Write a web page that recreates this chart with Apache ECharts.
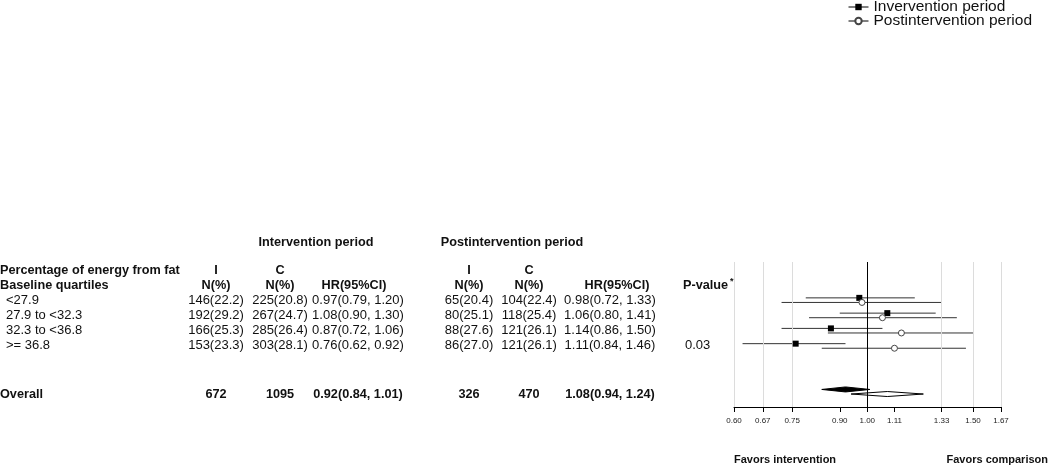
<!DOCTYPE html>
<html><head><meta charset="utf-8">
<script src="https://cdn.jsdelivr.net/npm/echarts@6/dist/echarts.min.js"></script>
<style>html,body{margin:0;padding:0;background:#fff}#c{width:1050px;height:466px}</style>
</head><body><div id="c"></div>
<script>
// ---- data ----
const rowLabels = ['<27.9', '27.9 to <32.3', '32.3 to <36.8', '>= 36.8'];
const intI = ['146(22.2)', '192(29.2)', '166(25.3)', '153(23.3)'];
const intC = ['225(20.8)', '267(24.7)', '285(26.4)', '303(28.1)'];
const intHR = [0.97, 1.08, 0.87, 0.76];
const intLo = [0.79, 0.90, 0.72, 0.62];
const intHi = [1.20, 1.30, 1.06, 0.92];
const postI = ['65(20.4)', '80(25.1)', '88(27.6)', '86(27.0)'];
const postC = ['104(22.4)', '118(25.4)', '121(26.1)', '121(26.1)'];
const postHR = [0.98, 1.06, 1.14, 1.11];
const postLo = [0.72, 0.80, 0.86, 0.84];
const postHi = [1.33, 1.41, 1.50, 1.46];
const pValues = ['', '', '', '0.03'];
const overallN = ['672', '1095', '326', '470'];   // int I, int C, post I, post C
const overallHR = [0.92, 1.08];
const overallLo = [0.84, 0.94];
const overallHi = [1.01, 1.24];
const tickValues = [0.60, 0.67, 0.75, 0.90, 1.00, 1.11, 1.33, 1.50, 1.67];
const gridValues = [0.60, 0.67, 0.75, 1.33, 1.50, 1.67];
const seriesNames = ['Invervention period', 'Postintervention period'];
const OVERALL_ROW = 6;

// ---- layout ----
const FONT = '"Liberation Sans", Arial, Helvetica, sans-serif';
const rowY = r => 300 + 15.2 * r;
const fmtHR = (v, lo, hi) => v.toFixed(2) + '(' + lo.toFixed(2) + ', ' + hi.toFixed(2) + ')';
const texts = [];
function t(x, y, s, align, bold, size) {
  texts.push({
    type: 'text', x: x, y: y, silent: true,
    style: {
      text: s, align: align || 'left', verticalAlign: 'middle',
      font: (bold ? 'bold ' : '') + (size || (bold ? 12.7 : 13)) + 'px ' + FONT, fill: '#111'
    }
  });
}
const col = { iI: 216, iC: 280, iHR: 358, pI: 469, pC: 529, pHR: 610, pv: 683 };
t(316, 242, 'Intervention period', 'center', true);
t(512, 242, 'Postintervention period', 'center', true);
t(0, 270, 'Percentage of energy from fat', 'left', true);
t(0, 285, 'Baseline quartiles', 'left', true);
t(col.iI, 270, 'I', 'center', true); t(col.iC, 270, 'C', 'center', true);
t(col.pI, 270, 'I', 'center', true); t(col.pC, 270, 'C', 'center', true);
t(col.iI, 285, 'N(%)', 'center', true); t(col.iC, 285, 'N(%)', 'center', true);
t(354, 285, 'HR(95%CI)', 'center', true);
t(col.pI, 285, 'N(%)', 'center', true); t(col.pC, 285, 'N(%)', 'center', true);
t(617, 285, 'HR(95%CI)', 'center', true);
t(col.pv, 285, 'P-value', 'left', true);
t(col.pv + 47, 282, '*', 'left', true, 9);
rowLabels.forEach((lab, i) => {
  const y = rowY(i);
  t(6, y, lab, 'left');
  t(col.iI, y, intI[i], 'center'); t(col.iC, y, intC[i], 'center');
  t(col.iHR, y, fmtHR(intHR[i], intLo[i], intHi[i]), 'center');
  t(col.pI, y, postI[i], 'center'); t(col.pC, y, postC[i], 'center');
  t(col.pHR, y, fmtHR(postHR[i], postLo[i], postHi[i]), 'center');
  if (pValues[i]) t(col.pv + 2, y, pValues[i], 'left');
});
const oy = rowY(OVERALL_ROW) + 3;
t(0, oy, 'Overall', 'left', true);
t(col.iI, oy, overallN[0], 'center', true); t(col.iC, oy, overallN[1], 'center', true);
t(col.iHR, oy, fmtHR(overallHR[0], overallLo[0], overallHi[0]), 'center', true);
t(col.pI, oy, overallN[2], 'center', true); t(col.pC, oy, overallN[3], 'center', true);
t(col.pHR, oy, fmtHR(overallHR[1], overallLo[1], overallHi[1]), 'center', true);
t(734, 460, 'Favors intervention', 'left', true, 11);
t(1048, 460, 'Favors comparison', 'right', true, 11);

const OFF = 0.15;
function ciSeries(lo, hi, off) {
  return {
    type: 'custom', silent: true, z: 2,
    data: lo.map((v, i) => [v, hi[i], i + off]),
    encode: { x: [0, 1], y: 2 },
    renderItem: (p, api) => {
      const a = api.coord([api.value(0), api.value(2)]);
      const b = api.coord([api.value(1), api.value(2)]);
      return { type: 'line', shape: { x1: a[0], y1: a[1], x2: b[0], y2: b[1] },
        style: { stroke: '#333', lineWidth: 1 } };
    }
  };
}
function diamondSeries(k, off, fill) {
  return {
    type: 'custom', silent: true, z: 4,
    data: [[overallLo[k], overallHR[k], overallHi[k], OVERALL_ROW + off]],
    encode: { x: [0, 1, 2], y: 3 },
    renderItem: (p, api) => {
      const y = api.value(3);
      const a = api.coord([api.value(0), y]);
      const m = api.coord([api.value(1), y]);
      const b = api.coord([api.value(2), y]);
      const h = 2.5;
      return { type: 'polygon',
        shape: { points: [[a[0], a[1]], [m[0], m[1] - h], [b[0], b[1]], [m[0], m[1] + h]] },
        style: { fill: fill, stroke: '#000', lineWidth: 1 } };
    }
  };
}

const option = {
  animation: false,
  backgroundColor: '#fff',
  textStyle: { fontFamily: FONT },
  legend: {
    orient: 'vertical', left: 848, top: -1, padding: 0, itemGap: -2, itemWidth: 20, itemHeight: 8,
    data: seriesNames,
    textStyle: { fontSize: 15.5, color: '#111', fontFamily: FONT },
    lineStyle: { width: 1, color: '#000', opacity: 1 }
  },
  grid: { left: 734, right: 49, top: 262, bottom: 59 },
  xAxis: {
    type: 'log', logBase: 10, min: 0.6, max: 1.67,
    axisLine: { show: true, onZero: false, lineStyle: { color: '#000', width: 1 } },
    axisTick: { show: true, length: 5, customValues: tickValues, lineStyle: { color: '#000' } },
    axisLabel: { customValues: tickValues, formatter: v => (+v).toFixed(2), fontSize: 8, color: '#222', margin: 10 },
    splitLine: { show: false }
  },
  yAxis: { type: 'value', inverse: true, min: -2.5, max: 7, show: false },
  graphic: texts,
  series: [
    ciSeries(intLo, intHi, -OFF),
    ciSeries(postLo, postHi, OFF),
    diamondSeries(0, -OFF, '#000'),
    diamondSeries(1, OFF, '#fff'),
    {
      name: seriesNames[0], type: 'line', z: 5,
      data: intHR.map((v, i) => [v, i - OFF]),
      symbol: 'rect', symbolSize: 6, showSymbol: true,
      itemStyle: { color: '#000' }, lineStyle: { width: 0, opacity: 0 },
      markLine: {
        silent: true, symbol: 'none', label: { show: false },
        data: gridValues.map(v => ({ xAxis: v, lineStyle: { color: '#dcdcdc', width: 1, type: 'solid' } }))
          .concat([{ xAxis: 1, lineStyle: { color: '#000', width: 1, type: 'solid' } }])
      }
    },
    {
      name: seriesNames[1], type: 'line', z: 5,
      data: postHR.map((v, i) => [v, i + OFF]),
      symbol: 'circle', symbolSize: 6, showSymbol: true,
      itemStyle: { color: '#fff', borderColor: '#444', borderWidth: 1 },
      lineStyle: { width: 0, opacity: 0 }
    }
  ]
};
const chart = echarts.init(document.getElementById('c'), null, { renderer: 'canvas' });
chart.setOption(option);
</script></body></html>
